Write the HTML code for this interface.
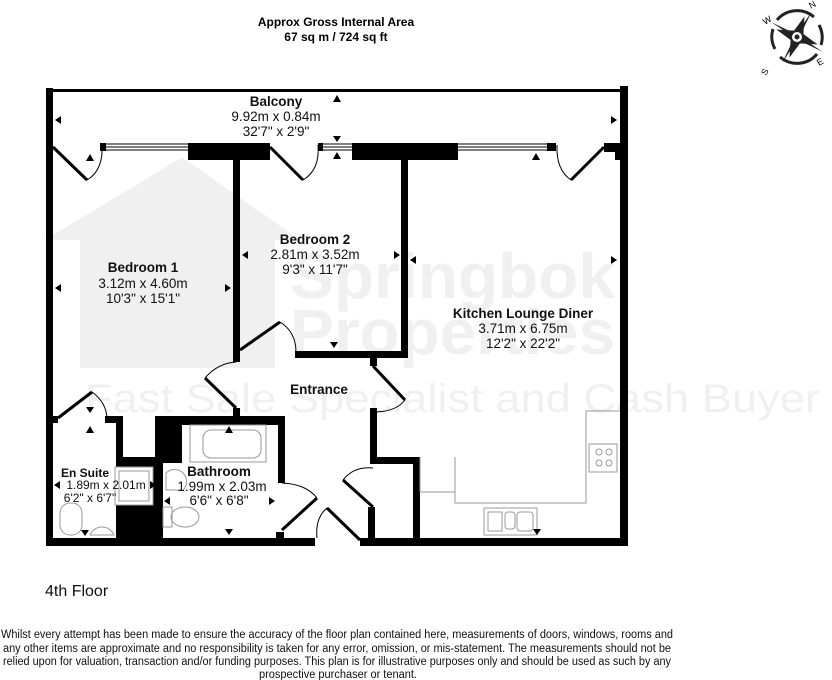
<!DOCTYPE html>
<html><head><meta charset="utf-8"><style>
html,body{margin:0;padding:0;background:#fff;}
svg{display:block;font-family:"Liberation Sans",sans-serif;}
</style></head><body>
<svg width="832" height="680" viewBox="0 0 832 680" xmlns="http://www.w3.org/2000/svg">
<!-- watermark -->
<g fill="#f0f0f0">
<polygon points="45,240 182,157 300,240 275,240 275,368 80,368 80,240"/>
<text x="290" y="298" font-size="64" font-weight="bold" textLength="325" lengthAdjust="spacingAndGlyphs">Springbok</text>
<text x="290" y="354" font-size="64" font-weight="bold" textLength="325" lengthAdjust="spacingAndGlyphs">Properties</text>
<text x="85" y="412" font-size="40" textLength="735" lengthAdjust="spacingAndGlyphs">Fast Sale Specialist and Cash Buyer</text>
</g>
<!-- header -->
<text x="336" y="26" font-size="12" font-weight="bold" text-anchor="middle">Approx Gross Internal Area</text>
<text x="336" y="41" font-size="12" font-weight="bold" text-anchor="middle">67 sq m / 724 sq ft</text>
<!-- compass -->
<g transform="translate(797,37)">
<path d="M-20,-17 A26,26 0 0 1 17,-20 M20,17 A26,26 0 0 1 -17,20 M-22,12 A26,26 0 0 1 -24,-8 M22,-12 A26,26 0 0 1 24,8" stroke="#222" stroke-width="3" fill="none"/>
<polygon points="0,-22 5,-5 22,0 5,5 0,22 -5,5 -22,0 -5,-5" fill="#222" transform="rotate(20)"/>
<polygon points="0,-30 2,-2 0,30 -2,2" fill="#222" transform="rotate(30)"/>
<polygon points="0,-30 2,-2 0,30 -2,2" fill="#222" transform="rotate(120)"/>
<circle r="6" fill="#fff" stroke="#222" stroke-width="2"/><circle r="2.5" fill="#222"/>
<text x="-32" y="-12" font-size="9" transform="rotate(-30 -32 -12)">W</text>
<text x="14" y="-28" font-size="9" transform="rotate(-30 14 -28)">N</text>
<text x="22" y="29" font-size="9" transform="rotate(-30 22 29)">E</text>
<text x="-31" y="39" font-size="9" transform="rotate(-60 -31 39)">S</text>
</g>
<!-- balcony outline -->
<rect x="46" y="88" width="7" height="457" fill="#000"/>
<rect x="620" y="86" width="8" height="459" fill="#000"/>
<rect x="53" y="89" width="567" height="3" fill="#000"/>
<!-- balcony inner wall -->
<g fill="#000">
<rect x="100" y="143" width="6" height="8"/>
<rect x="188" y="143" width="82" height="17"/>
<rect x="318" y="143" width="5" height="8"/>
<rect x="352" y="143" width="106" height="17"/>
<rect x="547" y="143" width="9" height="8"/>
<rect x="604" y="143" width="16" height="9"/>
<rect x="615" y="143" width="5" height="17"/>
</g>
<g stroke="#000" stroke-width="1" fill="none">
<path d="M106,144H188M106,147H188M106,150H188"/>
<path d="M323,144H352M323,147H352M323,150H352"/>
<path d="M458,144H547M458,147H547M458,150H547"/>
</g>
<!-- interior walls -->
<g fill="#000">
<rect x="233" y="160" width="7" height="202"/>
<rect x="401" y="160" width="7" height="198"/>
<rect x="295" y="351" width="113" height="7"/>
<rect x="370" y="351" width="7" height="15"/>
<rect x="233" y="408" width="7" height="10"/>
<rect x="53" y="416" width="5" height="7"/>
<rect x="105" y="416" width="18" height="7"/>
<rect x="116" y="416" width="7" height="42"/>
<rect x="116" y="457" width="39" height="83"/>
<rect x="155" y="416" width="130" height="9"/>
<rect x="155" y="416" width="27" height="47"/>
<rect x="155" y="416" width="8" height="124"/>
<rect x="278" y="416" width="7" height="67"/>
<rect x="370" y="408" width="7" height="56"/>
<rect x="370" y="457" width="50" height="7"/>
<rect x="413" y="457" width="7" height="85"/>
<rect x="368" y="507" width="7" height="35"/>
<rect x="46" y="538" width="269" height="8"/>
<rect x="360" y="538" width="268" height="8"/>
<rect x="276" y="532" width="8" height="8"/>
</g>
<!-- doors -->
<g stroke="#000" fill="none">
<g stroke-width="3">
<path d="M53,147L87,180"/><path d="M270,147L303,180"/><path d="M604,147L571,180"/>
<path d="M240,350L280,322"/>
<path d="M236,408L205,378"/>
<path d="M373,366L405,400"/>
<path d="M58,418L92,392"/>
<path d="M317,498L282,530"/>
<path d="M327,508L360,540"/>
<path d="M343,480L373,507"/>
</g>
<g stroke-width="1">
<path d="M87,180Q104,170 102,143"/><path d="M303,180Q320,170 318,145"/><path d="M571,180Q556,170 557,145"/>
<path d="M280,322Q296,332 296,352"/>
<path d="M205,378Q218,363 236,362"/>
<path d="M405,400Q396,412 373,412"/>
<path d="M92,392Q106,402 107,418"/>
<path d="M317,498Q306,484 282,483"/>
<path d="M327,508Q315,518 317,538"/>
<path d="M343,480Q354,466 373,468"/>
</g>
</g>
<!-- fixtures -->
<g stroke="#999" stroke-width="1" fill="none">
<path d="M420,457V492H455M455,457V503H586V411H620"/>
<rect x="589" y="444" width="28" height="28"/>
<circle cx="599" cy="452" r="3"/><circle cx="609" cy="452" r="3"/><circle cx="599" cy="463" r="3"/><circle cx="609" cy="463" r="3"/>
<rect x="484" y="508" width="53" height="27"/>
<rect x="488" y="512" width="14" height="19"/><rect x="505" y="512" width="10" height="17" rx="3"/><rect x="517" y="512" width="16" height="19" rx="3"/>
<rect x="190" y="425" width="76" height="37"/>
<rect x="203" y="430" width="58" height="28" rx="8"/>
<path d="M166,473A10,10 0 0 1 183,490H166Z"/>
<rect x="163" y="507" width="9" height="20"/><ellipse cx="185" cy="517" rx="14" ry="10"/>
<rect x="115" y="467" width="38" height="38" fill="#fff"/>
<rect x="119" y="471" width="30" height="30" fill="#fff"/>
<rect x="60" y="503" width="22" height="32" rx="10"/>
<path d="M90,535A13,13 0 0 1 114,535Z"/>
</g>
<!-- arrows -->
<g fill="#000">
<polygon points="333,102 341,102 337,95"/>
<polygon points="333,136 341,136 337,142"/>
<polygon points="333,159 341,159 337,152"/>
<polygon points="86,161 94,161 90,154"/>
<polygon points="61,116 61,124 55,120"/>
<polygon points="611,116 611,124 617,120"/>
<polygon points="61,284 61,292 55,288"/>
<polygon points="225,284 225,292 231,288"/>
<polygon points="248,251 248,259 242,255"/>
<polygon points="394,251 394,259 400,255"/>
<polygon points="416,256 416,264 410,260"/>
<polygon points="611,256 611,264 617,260"/>
<polygon points="330,342 338,342 334,348"/>
<polygon points="532,160 540,160 536,153"/>
<polygon points="533,529 541,529 537,535"/>
<polygon points="225,433 233,433 229,426"/>
<polygon points="225,529 233,529 229,535"/>
<polygon points="170,497 170,505 164,501"/>
<polygon points="269,497 269,505 275,501"/>
<polygon points="86,407 94,407 90,413"/>
<polygon points="86,433 94,433 90,426"/>
<polygon points="60,481 60,489 54,485"/>
<polygon points="150,481 150,489 156,485"/>
<polygon points="81,530 89,530 85,536"/>
</g>
<!-- labels -->
<g font-size="13.5" text-anchor="middle" fill="#111">
<text x="276" y="106" font-weight="bold">Balcony</text>
<text x="276" y="121">9.92m x 0.84m</text>
<text x="276" y="136">32'7" x 2'9"</text>
<text x="143" y="272" font-weight="bold">Bedroom 1</text>
<text x="143" y="288">3.12m x 4.60m</text>
<text x="143" y="303">10'3" x 15'1"</text>
<text x="315" y="244" font-weight="bold">Bedroom 2</text>
<text x="315" y="259">2.81m x 3.52m</text>
<text x="315" y="274">9'3" x 11'7"</text>
<text x="523" y="318" font-weight="bold">Kitchen Lounge Diner</text>
<text x="523" y="333">3.71m x 6.75m</text>
<text x="523" y="348">12'2" x 22'2"</text>
<text x="319" y="394" font-weight="bold">Entrance</text>
<text x="219" y="476" font-weight="bold">Bathroom</text>
<text x="222" y="491">1.99m x 2.03m</text>
<text x="219" y="505">6'6" x 6'8"</text>
<text x="85" y="477" font-weight="bold" font-size="12">En Suite</text>
<text x="106" y="489" font-size="12">1.89m x 2.01m</text>
<text x="90" y="502" font-size="12">6'2" x 6'7"</text>
</g>
<text x="45" y="596" font-size="16" fill="#111">4th Floor</text>
<g font-size="11.5" text-anchor="middle" fill="#111">
<text x="337" y="638" textLength="672" lengthAdjust="spacingAndGlyphs">Whilst every attempt has been made to ensure the accuracy of the floor plan contained here, measurements of doors, windows, rooms and</text>
<text x="337" y="652" textLength="668" lengthAdjust="spacingAndGlyphs">any other items are approximate and no responsibility is taken for any error, omission, or mis-statement. The measurements should not be</text>
<text x="337" y="665" textLength="668" lengthAdjust="spacingAndGlyphs">relied upon for valuation, transaction and/or funding purposes. This plan is for illustrative purposes only and should be used as such by any</text>
<text x="338" y="678" textLength="158" lengthAdjust="spacingAndGlyphs">prospective purchaser or tenant.</text>
</g>
</svg>
</body></html>
